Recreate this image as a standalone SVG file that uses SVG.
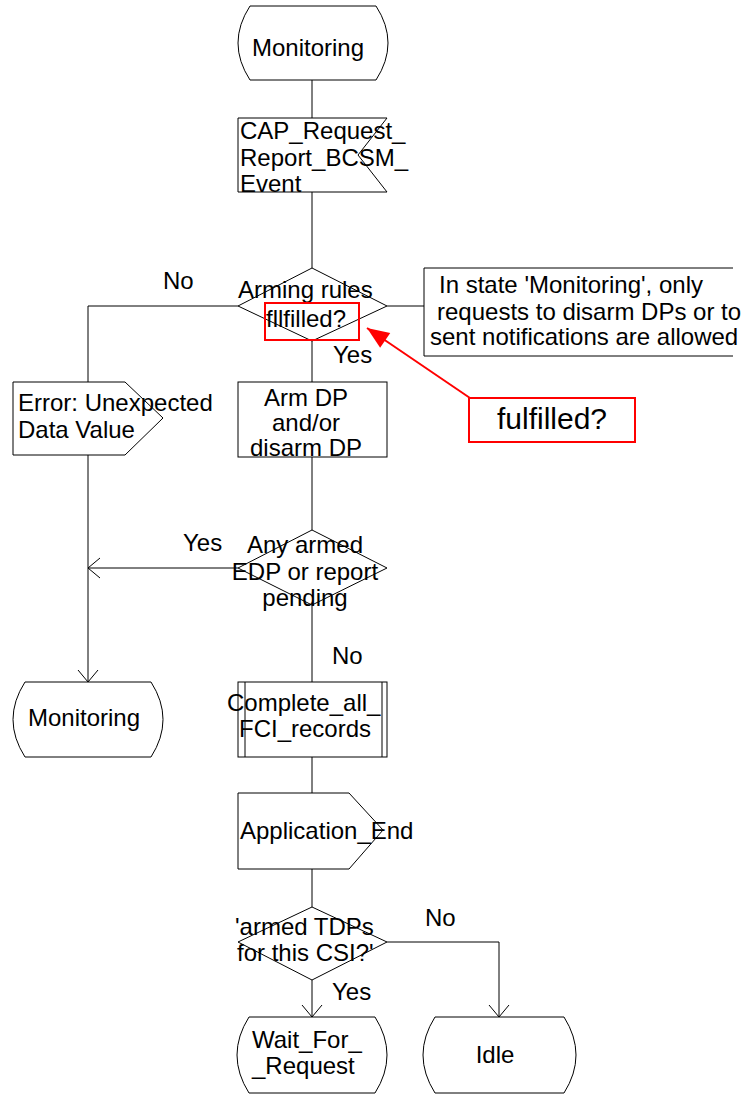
<svg xmlns="http://www.w3.org/2000/svg" width="746" height="1095" viewBox="0 0 746 1095">
  <style>
    .shape { fill: #fff; stroke: #000; stroke-width: 1; }
    .line { fill: none; stroke: #000; stroke-width: 1; }
    .txt { font-family: "Liberation Sans", Arial, sans-serif; font-size: 24px; fill: #000; }
    .mid { text-anchor: middle; }
    .red { fill: none; stroke: #ff0000; stroke-width: 2; }
  </style>
  <defs>
    <marker id="open" markerUnits="userSpaceOnUse" viewBox="-15 -15 30 30" markerWidth="30" markerHeight="30" refX="0" refY="0" orient="auto">
      <path d="M-12,-10 L0,0 L-12,10" fill="none" stroke="#000" stroke-width="1"/>
    </marker>
    <marker id="redhead" markerUnits="userSpaceOnUse" viewBox="-25 -12 30 24" markerWidth="30" markerHeight="24" refX="0" refY="0" orient="auto">
      <path d="M0,0 L-22,-9 L-22,9 Z" fill="#ff0000"/>
    </marker>
  </defs>

  <!-- connectors -->
  <g id="connectors">
    <path class="line" d="M312,80 V118"/>
    <path class="line" d="M312,192 V268"/>
    <path class="line" d="M238,306 H88 V382"/>
    <path class="line" d="M387,306 H424"/>
    <path class="line" d="M312,341 V382"/>
    <path class="line" d="M312,457 V530"/>
    <path class="line" d="M88,455 V682" marker-end="url(#open)"/>
    <path class="line" d="M238,568 H88" marker-end="url(#open)"/>
    <path class="line" d="M312,605 V682"/>
    <path class="line" d="M312,757 V793"/>
    <path class="line" d="M312,869 V907"/>
    <path class="line" d="M312,980 V1017" marker-end="url(#open)"/>
    <path class="line" d="M387,942 H499 V1017" marker-end="url(#open)"/>
  </g>

  <!-- start state -->
  <g id="state-monitoring-top">
    <path class="shape" d="M250,6 H376 Q400,43 376,80 H250 Q226,43 250,6 Z"/>
    <text class="txt" x="252" y="56">Monitoring</text>
  </g>

  <!-- input signal -->
  <g id="input-cap-request">
    <polygon class="shape" points="238,118 387,118 358,155 387,192 238,192"/>
    <text class="txt" x="240" y="139">CAP_Request_</text>
    <text class="txt" x="240" y="166">Report_BCSM_</text>
    <text class="txt" x="240" y="192">Event</text>
  </g>

  <!-- decision: arming rules -->
  <g id="decision-arming">
    <polygon class="shape" points="312,268 387,306 312,341 238,306"/>
    <text class="txt" x="238" y="298">Arming rules</text>
    <text class="txt" x="266" y="327">fllfilled?</text>
  </g>

  <!-- comment -->
  <g id="comment-monitoring">
    <path class="line" d="M733,268 H424 V356 H733"/>
    <text class="txt" x="439" y="293">In state 'Monitoring', only</text>
    <text class="txt" x="437" y="320">requests to disarm DPs or to</text>
    <text class="txt" x="430" y="345">sent notifications are allowed</text>
  </g>

  <!-- output signal: error -->
  <g id="output-error">
    <polygon class="shape" points="13,382 125,382 163,418 125,455 13,455"/>
    <text class="txt" x="18" y="411">Error: Unexpected</text>
    <text class="txt" x="18" y="438">Data Value</text>
  </g>

  <!-- task: arm / disarm -->
  <g id="task-arm-dp">
    <rect class="shape" x="238" y="382" width="149" height="75"/>
    <text class="txt mid" x="306" y="406">Arm DP</text>
    <text class="txt mid" x="306" y="431">and/or</text>
    <text class="txt mid" x="306" y="456">disarm DP</text>
  </g>

  <!-- decision: armed EDP -->
  <g id="decision-armed-edp">
    <polygon class="shape" points="312,530 387,568 312,605 238,568"/>
    <text class="txt mid" x="305" y="553">Any armed</text>
    <text class="txt mid" x="305" y="580">EDP or report</text>
    <text class="txt mid" x="305" y="606">pending</text>
  </g>

  <!-- state: monitoring -->
  <g id="state-monitoring-left">
    <path class="shape" d="M25,682 H151 Q175,719.5 151,757 H25 Q1,719.5 25,682 Z"/>
    <text class="txt" x="28" y="726">Monitoring</text>
  </g>

  <!-- procedure call -->
  <g id="procedure-complete-fci">
    <rect class="shape" x="238" y="682" width="149" height="75"/>
    <path class="line" d="M245,682 V757 M382,682 V757"/>
    <text class="txt" x="227" y="711">Complete_all_</text>
    <text class="txt" x="239" y="737">FCI_records</text>
  </g>

  <!-- output signal: application end -->
  <g id="output-application-end">
    <polygon class="shape" points="238,793 349,793 383,830 349,869 238,869"/>
    <text class="txt" x="240" y="839">Application_End</text>
  </g>

  <!-- decision: armed TDPs -->
  <g id="decision-armed-tdps">
    <polygon class="shape" points="312,907 387,942 312,980 238,942"/>
    <text class="txt" x="235" y="935">'armed TDPs</text>
    <text class="txt" x="237" y="961">for this CSI?'</text>
  </g>

  <!-- state: wait for request -->
  <g id="state-wait-for-request">
    <path class="shape" d="M249,1017 H375 Q399,1055 375,1093 H249 Q225,1055 249,1017 Z"/>
    <text class="txt" x="252" y="1048">Wait_For_</text>
    <text class="txt" x="252" y="1074">_Request</text>
  </g>

  <!-- state: idle -->
  <g id="state-idle">
    <path class="shape" d="M435,1017 H564 Q588,1055 564,1093 H435 Q411,1055 435,1017 Z"/>
    <text class="txt mid" x="495" y="1063">Idle</text>
  </g>

  <!-- branch labels -->
  <g id="labels">
    <text class="txt" x="163" y="289">No</text>
    <text class="txt" x="333" y="363">Yes</text>
    <text class="txt" x="183" y="551">Yes</text>
    <text class="txt" x="332" y="664">No</text>
    <text class="txt" x="425" y="926">No</text>
    <text class="txt" x="332" y="1000">Yes</text>
  </g>

  <!-- correction note -->
  <g id="correction-note">
    <rect class="red" x="265" y="303" width="94" height="37"/>
    <line x1="470" y1="398" x2="367" y2="328" stroke="#ff0000" stroke-width="2" marker-end="url(#redhead)"/>
    <rect class="red" x="469" y="398" width="166" height="44"/>
    <text class="txt mid" x="552" y="429" style="font-size:30px">fulfilled?</text>
  </g>
</svg>
